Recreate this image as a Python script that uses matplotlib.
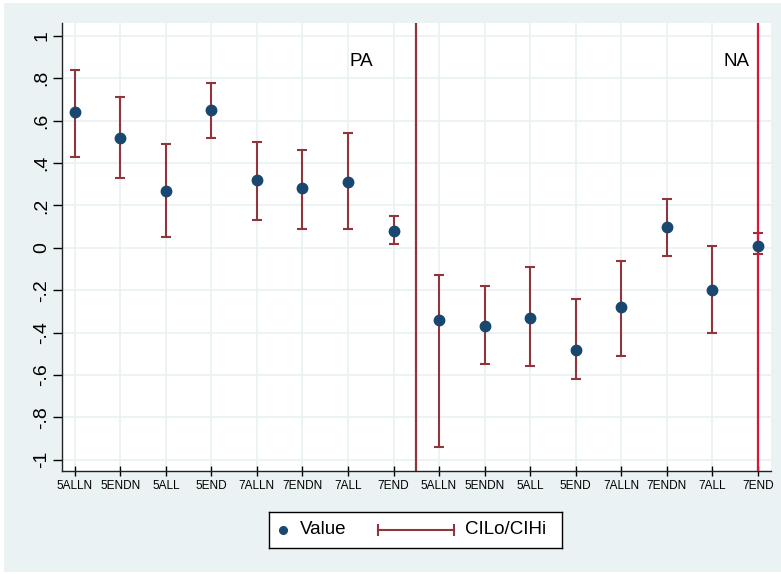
import numpy as np
import matplotlib
matplotlib.use("Agg")
import matplotlib.pyplot as plt
from matplotlib.patches import Rectangle

plt.rcParams['font.family'] = ['Liberation Sans', 'DejaVu Sans']

# ---------------- data ----------------
categories = ["5ALLN", "5ENDN", "5ALL", "5END", "7ALLN", "7ENDN", "7ALL", "7END",
              "5ALLN", "5ENDN", "5ALL", "5END", "7ALLN", "7ENDN", "7ALL", "7END"]
values = [0.64, 0.52, 0.27, 0.65, 0.32, 0.28, 0.31, 0.08,
          -0.34, -0.37, -0.33, -0.48, -0.28, 0.10, -0.20, 0.01]
ci_lo = [0.43, 0.33, 0.05, 0.52, 0.13, 0.09, 0.09, 0.02,
         -0.94, -0.55, -0.56, -0.62, -0.51, -0.04, -0.40, -0.03]
ci_hi = [0.84, 0.71, 0.49, 0.78, 0.50, 0.46, 0.54, 0.15,
         -0.13, -0.18, -0.09, -0.24, -0.06, 0.23, 0.01, 0.07]
ytick_vals = [-1, -0.8, -0.6, -0.4, -0.2, 0, 0.2, 0.4, 0.6, 0.8, 1]
ytick_labels = ["-1", "-.8", "-.6", "-.4", "-.2", "0", ".2", ".4", ".6", ".8", "1"]
group_labels = ["PA", "NA"]
group_divider = 8.5
group_end = 16

# ---------------- style ----------------
BG = '#EAF2F3'
NAVY = '#1A476F'
CRAN = '#90353B'
RED = '#DC143C'
W, H = 781, 574

fig = plt.figure(figsize=(W / 100, H / 100), dpi=100)
fig.patch.set_facecolor('white')
fig.patches.append(Rectangle((4 / W, 2 / H), 1 - 4 / W, (572 - 3) / H,
                             transform=fig.transFigure, facecolor=BG,
                             edgecolor='none', zorder=-10))

ax = fig.add_axes([62 / W, (H - 470.7) / H, (771 - 62) / W, (470.7 - 23) / H])
ax.set_facecolor('white')

x = np.arange(1, len(categories) + 1)
vals = np.array(values)
lo = np.array(ci_lo)
hi = np.array(ci_hi)

ax.errorbar(x, vals, yerr=[vals - lo, hi - vals], fmt='none', ecolor=CRAN,
            elinewidth=1.5, capsize=3.8, capthick=1.5, zorder=3)
ax.axvline(group_divider, color=CRAN, lw=1.6, zorder=2.5)
ax.axvline(group_end, color=RED, lw=1.6, zorder=3.5)
ax.plot(x, vals, 'o', color=NAVY, ms=7.5, zorder=4)

ax.text(7.3, 0.88, group_labels[0], ha='center', va='center', fontsize=13.5)
ax.text(15.53, 0.88, group_labels[1], ha='center', va='center', fontsize=13.5)

ax.set_xlim(0.72, 16.29)
ax.set_ylim(-1.052, 1.061)

ax.set_xticks(x)
ax.set_xticklabels(categories, fontsize=8.5)
ax.set_yticks(ytick_vals)
ax.set_yticklabels(ytick_labels, fontsize=14, rotation=90, va='center')

ax.tick_params(axis='x', direction='inout', length=7, width=1, pad=3, colors='black')
ax.tick_params(axis='y', direction='out', length=6.5, width=1, pad=2, colors='black')

ax.grid(True, color=BG, lw=1.3, zorder=0)
ax.set_axisbelow(True)
for s in ['top', 'right']:
    ax.spines[s].set_visible(False)
for s in ['left', 'bottom']:
    ax.spines[s].set_color('#222222')
    ax.spines[s].set_linewidth(1.0)

# ---------------- legend box ----------------
lx0, lx1, ly0, ly1 = 269, 562.3, 511.7, 548.3
lax = fig.add_axes([lx0 / W, (H - ly1) / H, (lx1 - lx0) / W, (ly1 - ly0) / H])
lax.set_xlim(0, lx1 - lx0)
lax.set_ylim(0, ly1 - ly0)
lax.set_xticks([])
lax.set_yticks([])
lax.set_facecolor('white')
for s in lax.spines.values():
    s.set_color('black')
    s.set_linewidth(1.0)
cy = (ly1 - ly0) / 2
lax.plot([283 - lx0], [cy], 'o', color=NAVY, ms=5.5)
lax.text(300 - lx0, cy, "Value", ha='left', va='center', fontsize=13.5)
lax.plot([378 - lx0, 454 - lx0], [cy, cy], color=CRAN, lw=1.5,
         marker='|', ms=8, mew=1.5)
lax.text(465.5 - lx0, cy, "CILo/CIHi", ha='left', va='center', fontsize=13.5)

fig.savefig("out.png", dpi=100, facecolor=fig.get_facecolor())
